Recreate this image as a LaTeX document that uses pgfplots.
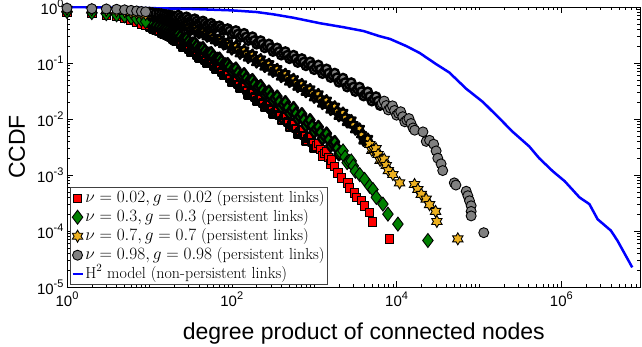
\documentclass[border=0pt]{standalone}
\usepackage{fontspec}
\newfontfamily\helv{Liberation Sans}
\usepackage{pgfplots}
\pgfplotsset{compat=1.18}
\usetikzlibrary{calc}
\definecolor{cred}{rgb}{1,0,0}
\definecolor{cgreen}{rgb}{0,0.5,0}
\definecolor{cyel}{rgb}{0.929,0.694,0.125}
\definecolor{cgray}{rgb}{0.5,0.5,0.5}
\definecolor{cblue}{rgb}{0,0,1}
\newcommand\tl[1]{10\raisebox{7pt}{\fontsize{11}{11}\selectfont #1}}
\pgfdeclareplotmark{hexstar}{%
  \pgfpathmoveto{\pgfqpointpolar{90}{\pgfplotmarksize}}%
  \pgfpathlineto{\pgfqpointpolar{120}{0.577\pgfplotmarksize}}%
  \pgfpathlineto{\pgfqpointpolar{150}{\pgfplotmarksize}}%
  \pgfpathlineto{\pgfqpointpolar{180}{0.577\pgfplotmarksize}}%
  \pgfpathlineto{\pgfqpointpolar{210}{\pgfplotmarksize}}%
  \pgfpathlineto{\pgfqpointpolar{240}{0.577\pgfplotmarksize}}%
  \pgfpathlineto{\pgfqpointpolar{270}{\pgfplotmarksize}}%
  \pgfpathlineto{\pgfqpointpolar{300}{0.577\pgfplotmarksize}}%
  \pgfpathlineto{\pgfqpointpolar{330}{\pgfplotmarksize}}%
  \pgfpathlineto{\pgfqpointpolar{0}{0.577\pgfplotmarksize}}%
  \pgfpathlineto{\pgfqpointpolar{30}{\pgfplotmarksize}}%
  \pgfpathlineto{\pgfqpointpolar{60}{0.577\pgfplotmarksize}}%
  \pgfpathclose
  \pgfusepathqfillstroke}
\pgfplotsset{
  sred/.style={only marks, mark=square*, mark size=4.2pt, mark options={fill=cred, draw=black, line width=0.9pt}},
  sgreen/.style={only marks, mark=diamond*, mark size=7pt, mark options={fill=cgreen, draw=black, line width=0.9pt}},
  syel/.style={only marks, mark=hexstar, mark size=6pt, mark options={fill=cyel, draw=black, line width=0.9pt}},
  sgray/.style={only marks, mark=*, mark size=5pt, mark options={fill=cgray, draw=black, line width=0.9pt}},
  dred/.style={only marks, forget plot, mark=square*, mark size=3.5pt, mark options={fill=cred, draw=black, line width=2.4pt, line join=round}},
  dgreen/.style={only marks, forget plot, mark=diamond*, mark size=6pt, mark options={fill=cgreen, draw=black, line width=2.4pt, line join=round}},
  dyel/.style={only marks, forget plot, mark=hexstar, mark size=5pt, mark options={fill=cyel, draw=black, line width=2.4pt, line join=round}},
  dgray/.style={only marks, forget plot, mark=*, mark size=4.2pt, mark options={fill=cgray, draw=black, line width=2.4pt}},
}
\begin{document}
\begin{tikzpicture}
\begin{axis}[name=ax, xmode=log, ymode=log, scale only axis,
  width=573pt, height=280pt,
  xmin=1, xmax=9e6, ymin=1e-5, ymax=1,
  xtick={1,100,10000,1000000}, xticklabels={\tl{0},\tl{2},\tl{4},\tl{6}},
  ytick={1e-5,1e-4,1e-3,1e-2,1e-1,1},
  yticklabels={\tl{-5},\tl{-4},\tl{-3},\tl{-2},\tl{-1},\tl{0}},
  minor xtick={2,3,4,5,6,7,8,9,10,20,30,40,50,60,70,80,90,200,300,400,500,600,700,800,900,1000,2000,3000,4000,5000,6000,7000,8000,9000,20000,30000,40000,50000,60000,70000,80000,90000,100000,200000,300000,400000,500000,600000,700000,800000,900000,2000000,3000000,4000000,5000000,6000000,7000000,8000000},
  minor ytick={2e-5,3e-5,4e-5,5e-5,6e-5,7e-5,8e-5,9e-5,2e-4,3e-4,4e-4,5e-4,6e-4,7e-4,8e-4,9e-4,2e-3,3e-3,4e-3,5e-3,6e-3,7e-3,8e-3,9e-3,0.02,0.03,0.04,0.05,0.06,0.07,0.08,0.09,0.2,0.3,0.4,0.5,0.6,0.7,0.8,0.9},
  tick align=inside, major tick length=6pt, minor tick length=3pt,
  tick style={black, line width=0.5pt},
  axis line style={black, line width=0.7pt},
  ticklabel style={font=\helv\fontsize{15}{18}\selectfont},
  xticklabel style={yshift=-1pt},
  xlabel={degree product of connected nodes}, ylabel={CCDF},
  every axis x label/.style={at={(axis description cs:0.518,-0.189)}, anchor=base, font=\helv\fontsize{23}{26}\selectfont},
  every axis y label/.style={at={(axis description cs:-0.0873,0.5)}, anchor=center, rotate=90, font=\helv\fontsize{23}{26}\selectfont},
  legend style={at={(axis description cs:0,0)}, anchor=south west, xshift=3pt, yshift=2pt,
    draw=black!75, line width=0.6pt, fill=white, font=\fontsize{16}{18}\selectfont,
    inner sep=1pt, row sep=0pt, nodes={inner sep=1.5pt, text height=12pt, text depth=4pt}},
  legend cell align=left,
  legend image code/.code={\draw[mark repeat=2,mark phase=2] plot coordinates {(0pt,0pt) (5pt,0pt) (10pt,0pt)};},
]
% ---------- nu = 0.02 ----------
\addplot[dred] coordinates {
(10,0.437) (11,0.407) (12,0.380) (13,0.363) (14,0.339) (15,0.324) (16,0.309) (17,0.295) (18,0.282) (19,0.269) (20,0.257)
(21.1,0.243) (22.4,0.245) (23.7,0.216) (25.1,0.191) (26.6,0.195) (28.2,0.200) (29.9,0.175) (31.6,0.155)
(33.5,0.157) (35.5,0.158) (37.6,0.140) (39.8,0.123) (42.2,0.124) (44.7,0.126) (47.3,0.111) (50.1,0.0977)
(53.1,0.0989) (56.2,0.1) (59.6,0.0881) (63.1,0.0776) (66.8,0.078) (70.8,0.0794) (75.0,0.0687) (79.4,0.0603)
(84.1,0.0605) (89.1,0.0617) (94.4,0.0533) (100,0.0447) (106,0.047) (112,0.0501) (119,0.0414) (126,0.0347)
(133,0.0365) (141,0.0389) (150,0.0321) (158,0.0269) (168,0.0283) (178,0.0302) (188,0.0249) (200,0.0209)
(211,0.022) (224,0.0234) (237,0.0194) (251,0.0162) (266,0.0171) (282,0.0182) (299,0.015) (316,0.0123)
(335,0.0132) (355,0.0145) (376,0.0117) (398,0.00933) (422,0.0102) (447,0.0112) (473,0.00891) (501,0.00708)
(531,0.00776) (562,0.00851) (596,0.00676) (631,0.00537) (668,0.00589) (708,0.00646) (750,0.00513) (794,0.00398)
(841,0.00444) (891,0.0049) (944,0.00382) (1000,0.00295)
};
\addplot[sred] coordinates {
(1,0.813) (2,0.776) (3,0.724) (4,0.676) (5,0.631) (6,0.575) (7,0.537) (8,0.501) (9,0.468)
(1059,0.00329) (1122,0.00363) (1189,0.00283)
(1259,0.00219) (1334,0.00243) (1413,0.00263) (1496,0.00207) (1585,0.00158)
(1618,0.00187) (1770,0.00143) (1945,0.00109) (2138,8.89e-4) (2570,7.24e-4) (2692,5.89e-4) (3090,4.79e-4)
(3236,3.98e-4) (3715,3.47e-4) (4074,2.82e-4) (4677,2.14e-4) (5129,1.45e-4) (8222,7.24e-5)
};
\addlegendentry{$\nu = 0.02, g = 0.02$ (persistent links)}
% ---------- nu = 0.3 ----------
\addplot[dgreen] coordinates {
(10,0.525) (11,0.501) (12,0.468) (13,0.447) (14,0.427) (15,0.407) (16,0.398) (17,0.380) (18,0.363) (19,0.351) (20,0.339)
(21.1,0.324) (22.4,0.331) (23.7,0.295) (25.1,0.263) (26.6,0.269) (28.2,0.275) (29.9,0.245) (31.6,0.219)
(33.5,0.222) (35.5,0.226) (37.6,0.200) (39.8,0.178) (42.2,0.181) (44.7,0.184) (47.3,0.163) (50.1,0.145)
(53.1,0.147) (56.2,0.150) (59.6,0.132) (63.1,0.117) (66.8,0.119) (70.8,0.120) (75.0,0.106) (79.4,0.0933)
(84.1,0.0944) (89.1,0.0955) (94.4,0.0841) (100,0.0708) (106,0.075) (112,0.0794) (119,0.0668) (126,0.0562)
(133,0.0596) (141,0.0631) (150,0.0531) (158,0.0447) (168,0.047) (178,0.0495) (188,0.0417) (200,0.0351)
(211,0.0369) (224,0.0389) (237,0.0327) (251,0.0275) (266,0.0292) (282,0.0309) (299,0.0258) (316,0.0211)
(335,0.0229) (355,0.0251) (376,0.0203) (398,0.0162) (422,0.018) (447,0.02) (473,0.0159) (501,0.0127)
(531,0.0141) (562,0.0157) (596,0.0125) (631,0.01) (668,0.011) (708,0.0122) (750,0.0097) (794,0.00759)
(841,0.00855) (891,0.00955) (944,0.00753) (1000,0.00589) (1059,0.00661) (1122,0.00724) (1189,0.00575)
(1259,0.00447) (1334,0.00498) (1413,0.0055) (1496,0.00429) (1585,0.00331) (1679,0.00363) (1778,0.00389)
(1884,0.00302) (1995,0.00234)
};
\addplot[sgreen] coordinates {
(1,0.832) (2,0.794) (3,0.759) (4,0.724) (5,0.692) (6,0.646) (7,0.617) (8,0.589) (9,0.550)
(2113,0.00251) (2239,0.00269) (2371,0.00209) (2512,0.00166) (2661,0.00174)
(2818,0.00178) (2985,0.00145) (3162,0.00117)
(3565,1.02e-3) (4093,8.32e-4) (4710,6.31e-4) (5164,5.50e-4) (5675,3.98e-4) (6823,3.02e-4) (7852,2.0e-4)
(10375,1.33e-4) (23988,6.76e-5)
};
\addlegendentry{$\nu = 0.3, g = 0.3$ (persistent links)}
% ---------- nu = 0.7 ----------
\addplot[dyel] coordinates {
(10,0.708) (11,0.692) (12,0.676) (13,0.646) (14,0.631) (15,0.617) (16,0.603) (17,0.582) (18,0.562) (19,0.550) (20,0.537)
(21.1,0.521) (22.4,0.543) (23.7,0.492) (25.1,0.447) (26.6,0.462) (28.2,0.479) (29.9,0.432) (31.6,0.389)
(33.5,0.403) (35.5,0.417) (37.6,0.376) (39.8,0.339) (42.2,0.351) (44.7,0.363) (47.3,0.327) (50.1,0.295)
(53.1,0.303) (56.2,0.313) (59.6,0.280) (63.1,0.251) (66.8,0.258) (70.8,0.266) (75.0,0.238) (79.4,0.214)
(84.1,0.220) (89.1,0.226) (94.4,0.203) (100,0.174) (106,0.186) (112,0.200) (119,0.171) (126,0.146)
(133,0.157) (141,0.170) (150,0.145) (158,0.123) (168,0.132) (178,0.141) (188,0.120) (200,0.102)
(211,0.110) (224,0.117) (237,0.100) (251,0.0851) (266,0.0906) (282,0.0966) (299,0.0817) (316,0.0692)
(335,0.0736) (355,0.0785) (376,0.0664) (398,0.0562) (422,0.0598) (447,0.0638) (473,0.054) (501,0.0457)
(531,0.0486) (562,0.0519) (596,0.0439) (631,0.0372) (668,0.0395) (708,0.0422) (750,0.0356) (794,0.0302)
(841,0.0321) (891,0.0343) (944,0.029) (1000,0.024) (1059,0.0258) (1122,0.0279) (1189,0.0228) (1259,0.0186)
(1334,0.02) (1413,0.0216) (1496,0.0177) (1585,0.0145) (1679,0.0156) (1778,0.0168) (1884,0.0137) (1995,0.0112)
(2113,0.0121) (2239,0.013) (2371,0.0106) (2512,0.00871) (2661,0.00912) (2818,0.00955) (2985,0.00785)
(3162,0.00646) (3350,0.00661) (3548,0.00676) (3758,0.00525) (3981,0.00407) (4217,0.00427) (4467,0.00447)
};
\addplot[syel] coordinates {
(1,0.912) (2,0.891) (3,0.871) (4,0.851) (5,0.832) (6,0.794) (7,0.776) (8,0.759) (9,0.741)
(4732,0.00351) (5012,0.00275) (5309,0.00285) (5623,0.00295) (5957,0.00232) (6310,0.00182)
(6683,0.00186) (7079,0.00191) (7499,0.00148) (7943,0.0012)
(9016,1.02e-3) (10864,7.24e-4) (16520,6.76e-4) (18113,5.50e-4) (19953,4.52e-4) (22909,3.72e-4)
(25119,2.95e-4) (29717,2.24e-4) (30832,1.48e-4) (55335,7.24e-5)
};
\addlegendentry{$\nu = 0.7, g = 0.7$ (persistent links)}
% ---------- nu = 0.98 ----------
\addplot[dgray] coordinates {
(10,0.813) (11,0.794) (12,0.776) (13,0.767) (14,0.759) (15,0.741) (16,0.733) (17,0.724) (18,0.708) (19,0.700) (20,0.692)
(21.1,0.679) (22.4,0.716) (23.7,0.656) (25.1,0.603) (26.6,0.634) (28.2,0.668) (29.9,0.612) (31.6,0.562)
(33.5,0.589) (35.5,0.617) (37.6,0.562) (39.8,0.513) (42.2,0.537) (44.7,0.562) (47.3,0.513) (50.1,0.468)
(53.1,0.490) (56.2,0.513) (59.6,0.468) (63.1,0.427) (66.8,0.444) (70.8,0.462) (75.0,0.419) (79.4,0.380)
(84.1,0.395) (89.1,0.412) (94.4,0.373) (100,0.324) (106,0.351) (112,0.380) (119,0.329) (126,0.285)
(133,0.310) (141,0.339) (150,0.292) (158,0.251) (168,0.272) (178,0.295) (188,0.252) (200,0.216)
(211,0.233) (224,0.251) (237,0.216) (251,0.186) (266,0.202) (282,0.219) (299,0.187) (316,0.160)
(335,0.173) (355,0.186) (376,0.160) (398,0.138) (422,0.149) (447,0.160) (473,0.138) (501,0.119)
(531,0.128) (562,0.138) (596,0.119) (631,0.102) (668,0.111) (708,0.120) (750,0.104) (794,0.0891)
(841,0.0966) (891,0.105) (944,0.0902) (1000,0.0759) (1059,0.0836) (1122,0.0923) (1189,0.0771) (1259,0.0646)
(1334,0.0711) (1413,0.0785) (1496,0.0656) (1585,0.055) (1679,0.0603) (1778,0.0661) (1884,0.0546) (1995,0.0452)
(2113,0.0492) (2239,0.0537) (2371,0.0447) (2512,0.0372) (2661,0.0407) (2818,0.0447) (2985,0.0372) (3162,0.0309)
(3350,0.0339) (3548,0.0372) (3758,0.0309) (3981,0.0257) (4217,0.028) (4467,0.0306) (4732,0.0252) (5012,0.0209)
(5309,0.0229) (5623,0.0251) (5957,0.0209) (6310,0.0174)
};
\addplot[sgray] coordinates {
(1,0.955) (2,0.933) (3,0.923) (4,0.912) (5,0.891) (6,0.871) (7,0.851) (8,0.832) (9,0.822)
(6683,0.0191) (7079,0.0209) (7499,0.0174) (7943,0.0145) (8414,0.0157) (8913,0.0172)
(9441,0.0142) (10000,0.0117) (10593,0.0126) (11220,0.0135) (11885,0.011) (12589,0.00891) (13335,0.00955)
(14125,0.0102) (14962,0.00832) (15849,0.00692)
(16596,0.00631) (20893,0.00589) (22909,0.00398) (25119,0.00417) (28184,0.00355) (30200,0.00269)
(31623,0.002) (34674,0.00158) (36308,0.0012) (50119,7.24e-4) (52481,6.61e-4) (69984,5.13e-4)
(73282,4.27e-4) (76736,3.47e-4) (80353,2.82e-4) (80353,2.24e-4) (80353,1.86e-4) (114288,9.33e-5)
};
\addlegendentry{$\nu = 0.98, g = 0.98$ (persistent links)}
% ---------- H2 model ----------
\addplot[cblue, line width=2.5pt, no marks] coordinates {
(1,1) (3.16,0.977) (10,0.955) (31.6,0.923) (100,0.871) (200,0.813) (316,0.741) (550,0.646)
(1175,0.513) (2239,0.437) (3981,0.372) (6166,0.302) (8318,0.269) (13183,0.2) (19055,0.151)
(30200,0.0955) (43652,0.0676) (69984,0.0347) (112202,0.02) (177828,0.0102) (257040,5.89e-3)
(407380,3.24e-3) (537032,2.0e-3) (785236,1.17e-3) (1096500,7.76e-4) (1660000,3.98e-4)
(2188000,3.02e-4) (2754000,1.62e-4) (3981000,1.02e-4) (4786000,6.76e-5) (7244000,2.24e-5)
};
\addlegendentry{H$^2$ model (non-persistent links)}
\end{axis}
\pgfresetboundingbox
\path[use as bounding box] ($(ax.south west)+(-67pt,-60pt)$) rectangle ($(ax.north east)+(2pt,7pt)$);
\end{tikzpicture}
\end{document}
